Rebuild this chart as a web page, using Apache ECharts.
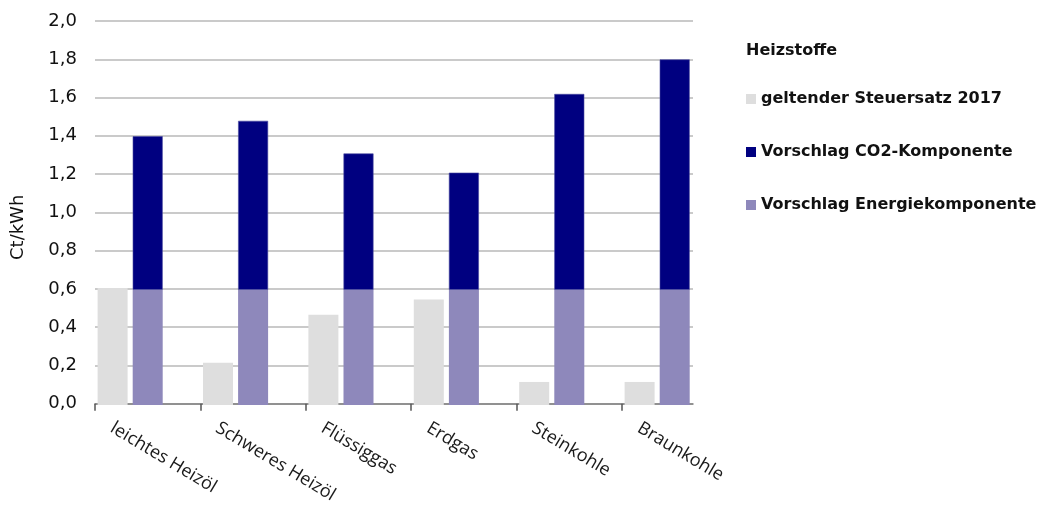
<!DOCTYPE html>
<html>
<head>
<meta charset="utf-8">
<script src="https://cdn.jsdelivr.net/npm/echarts@6/dist/echarts.min.js"></script>
<style>
  html, body { margin: 0; padding: 0; background: #ffffff; }
  #chart { width: 1050px; height: 506px; }
</style>
</head>
<body>
<div id="chart"></div>
<script>
// Heizstoffe: current tax rate 2017 vs. proposed energy + CO2 components (Ct/kWh)
const categories = ['leichtes Heizöl', 'Schweres Heizöl', 'Flüssiggas', 'Erdgas', 'Steinkohle', 'Braunkohle'];
const steuersatz2017 = [0.61, 0.22, 0.47, 0.55, 0.12, 0.12];
const energieKomponente = [0.60, 0.60, 0.60, 0.60, 0.60, 0.60];
const co2Komponente = [0.80, 0.88, 0.71, 0.61, 1.02, 1.20];
const yTicks = [0, 0.2, 0.4, 0.6, 0.8, 1.0, 1.2, 1.4, 1.6, 1.8, 2.0];

const legendTitle = 'Heizstoffe';
const seriesNames = ['geltender Steuersatz 2017', 'Vorschlag CO2-Komponente', 'Vorschlag Energiekomponente'];
const yName = 'Ct/kWh';

const colGrey = '#DEDEDE';
const colNavy = '#000080';
const colPurple = '#8E88BB';

const fmtDe = v => v.toFixed(1).replace('.', ',');

// The visible frame covers a little less than the six category bands.
const visibleBands = 5.674;
const labelShift = 0.16;
const tickValues = categories.map((c, i) => i);
const labelValues = categories.map((c, i) => i + labelShift);

const chart = echarts.init(document.getElementById('chart'), null, { renderer: 'canvas' });

chart.setOption({
  animation: false,
  backgroundColor: '#ffffff',
  textStyle: { fontFamily: 'DejaVu Sans' },
  title: {
    text: legendTitle,
    left: 741,
    top: 38,
    textStyle: { fontFamily: 'DejaVu Sans', fontWeight: 'bold', fontSize: 16, color: '#111111' }
  },
  legend: {
    orient: 'vertical',
    left: 741,
    top: 86,
    itemWidth: 10,
    itemHeight: 10,
    itemGap: 37,
    icon: 'rect',
    data: seriesNames,
    itemStyle: { borderWidth: 0 },
    textStyle: { fontFamily: 'DejaVu Sans', fontWeight: 'bold', fontSize: 16, color: '#111111' }
  },
  grid: [
    // bars
    { left: 95, top: 21, width: 632.4, height: 384, containLabel: false },
    // frame: gridlines, axis line, ticks and labels
    { left: 95, top: 21, width: 598, height: 384, containLabel: false }
  ],
  xAxis: [
    {
      type: 'category', gridIndex: 0, data: categories, show: false
    },
    {
      type: 'value', gridIndex: 1, min: 0, max: visibleBands,
      splitLine: { show: false },
      axisLine: { show: true, lineStyle: { color: '#7f7f7f', width: 1.5 } },
      axisTick: { show: true, customValues: tickValues, length: 7, lineStyle: { color: '#555555', width: 1.5 } },
      axisLabel: {
        customValues: labelValues,
        rotate: -31,
        margin: 23,
        fontFamily: 'Open Sans',
        fontSize: 18,
        color: '#1a1a1a',
        formatter: v => categories[Math.round(v - labelShift)]
      }
    }
  ],
  yAxis: [
    {
      type: 'value', gridIndex: 0, min: 0, max: 2, interval: 0.2, show: false
    },
    {
      type: 'value', gridIndex: 1, min: 0, max: 2, interval: 0.2,
      axisLine: { show: false },
      axisTick: { show: false },
      splitLine: { show: true, lineStyle: { color: '#b9b9b9', width: 1.5 } },
      axisLabel: {
        margin: 18,
        fontFamily: 'DejaVu Sans',
        fontSize: 18,
        color: '#111111',
        customValues: yTicks,
        formatter: v => fmtDe(v)
      },
      name: yName,
      nameLocation: 'middle',
      nameGap: 68,
      nameTextStyle: { fontFamily: 'DejaVu Sans', fontSize: 18, color: '#111111', padding: [0, 30, 0, 0] }
    }
  ],
  series: [
    {
      name: seriesNames[0], type: 'bar', xAxisIndex: 0, yAxisIndex: 0,
      barWidth: 30, barGap: '17%',
      itemStyle: { color: colGrey },
      data: steuersatz2017
    },
    {
      name: seriesNames[2], type: 'bar', xAxisIndex: 0, yAxisIndex: 0, stack: 'vorschlag',
      barWidth: 30, barGap: '17%',
      itemStyle: { color: colPurple },
      data: energieKomponente
    },
    {
      name: seriesNames[1], type: 'bar', xAxisIndex: 0, yAxisIndex: 0, stack: 'vorschlag',
      barWidth: 30, barGap: '17%',
      itemStyle: { color: colNavy, borderColor: '#4a4aa0', borderWidth: 0.6 },
      data: co2Komponente
    },
    {
      // empty third slot in each category group
      name: 'leer', type: 'bar', xAxisIndex: 0, yAxisIndex: 0,
      barWidth: 30, barGap: '17%',
      itemStyle: { color: 'transparent' },
      data: categories.map(() => null)
    }
  ]
});
</script>
</body>
</html>
